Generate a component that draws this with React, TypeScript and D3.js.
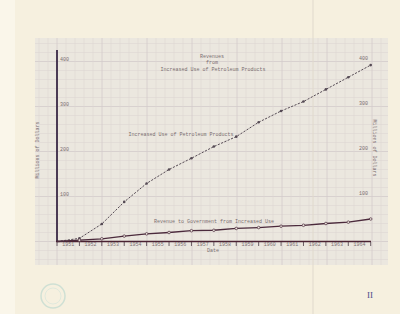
import React from "react";
import * as d3 from "d3";

const years = ["1951","1952","1953","1954","1955","1956","1957","1958","1959","1960","1961","1962","1963","1964"];
const petroleumUse = [0, 7, 39, 88, 129, 160, 185, 211, 233, 265, 290, 311, 338, 365, 392];
const revenue = [0, 3, 6, 12, 17, 20, 24, 25, 29, 31, 34, 36, 40, 43, 50];
const yTicks = [100, 200, 300, 400];

const W = 400, H = 314;
const FONT = "'Liberation Mono', 'DejaVu Sans Mono', monospace";
const TXT = "#7a6e70";

export default function App() {
  const x = d3.scaleLinear().domain([0, 14]).range([57, 370.7]);
  const y = d3.scaleLinear().domain([0, 400]).range([241.5, 61.5]);
  const idx = d3.range(petroleumUse.length);

  const gx0 = 35, gx1 = 388, gy0 = 38, gy1 = 265;
  const step = 9;
  const hLines: { v: number; major: boolean }[] = [];
  for (let k = -3; ; k++) {
    const v = 241.5 - k * step;
    if (v < gy0) break;
    if (v <= gy1) hLines.push({ v, major: k % 5 === 0 });
  }
  const vLines: { v: number; major: boolean }[] = [];
  for (let k = -2; ; k++) {
    const v = 57 + k * step;
    if (v > gx1) break;
    if (v >= gx0) vLines.push({ v, major: k % 5 === 0 });
  }

  const line = d3.line<number>().x((i) => x(i)).y((i) => y(petroleumUse[i]));
  const line2 = d3.line<number>().x((i) => x(i)).y((i) => y(revenue[i]));

  return (
    <svg width={W} height={H} style={{ position: "absolute", left: 0, top: 0 }}>
      <rect x={0} y={0} width={W} height={H} fill="#f6f0df" />
      <rect x={0} y={0} width={15} height={H} fill="#faf6ea" />
      <rect x={gx0} y={gy0} width={gx1 - gx0} height={gy1 - gy0} fill="#ebe7df" />
      {hLines.map((l, i) => (
        <line key={"h" + i} x1={gx0} x2={gx1} y1={l.v} y2={l.v} stroke={l.major ? "#d3cbca" : "#ddd6d3"} strokeWidth={l.major ? 0.8 : 0.6} />
      ))}
      {vLines.map((l, i) => (
        <line key={"v" + i} y1={gy0} y2={gy1} x1={l.v} x2={l.v} stroke={l.major ? "#d3cbca" : "#ddd6d3"} strokeWidth={l.major ? 0.8 : 0.6} />
      ))}
      <line x1={313} x2={313} y1={0} y2={H} stroke="#e0d9cc" strokeWidth={1} />

      {/* axes */}
      <line x1={57} x2={57} y1={50} y2={241.5} stroke="#3a2846" strokeWidth={1.8} />
      <line x1={56} x2={371} y1={241.5} y2={241.5} stroke="#4a2232" strokeWidth={1.5} />
      {idx.map((i) => (
        <line key={"t" + i} x1={x(i)} x2={x(i)} y1={242} y2={246} stroke="#4a3a44" strokeWidth={0.8} />
      ))}
      {years.map((yr, i) => (
        <text key={yr} x={x(i + 0.5)} y={246} fontSize={5} fontFamily={FONT} fill={TXT} textAnchor="middle">{yr}</text>
      ))}
      <text x={213} y={252} fontSize={5} fontFamily={FONT} fill={TXT} textAnchor="middle">Date</text>

      {yTicks.map((t) => (
        <text key={"l" + t} x={60} y={y(t) - 0.5} fontSize={5} fontFamily={FONT} fill={TXT}>{t}</text>
      ))}
      {yTicks.map((t) => (
        <text key={"r" + t} x={368} y={y(t) - 1.5} fontSize={5} fontFamily={FONT} fill={TXT} textAnchor="end">{t}</text>
      ))}
      <text transform="translate(39,150) rotate(-90)" fontSize={5} fontFamily={FONT} fill={TXT} textAnchor="middle">Millions of Dollars</text>
      <text transform="translate(373,148) rotate(90)" fontSize={5} fontFamily={FONT} fill={TXT} textAnchor="middle">Millions of Dollars</text>

      <text x={212} y={58} fontSize={5} fontFamily={FONT} fill={TXT} textAnchor="middle">Revenues</text>
      <text x={212} y={64} fontSize={5} fontFamily={FONT} fill={TXT} textAnchor="middle">from</text>
      <text x={213} y={71} fontSize={5} fontFamily={FONT} fill={TXT} textAnchor="middle">Increased Use of Petroleum Products</text>

      <text x={181} y={135.5} fontSize={5} fontFamily={FONT} fill={TXT} textAnchor="middle">Increased Use of Petroleum Products</text>
      <text x={214} y={223} fontSize={5} fontFamily={FONT} fill={TXT} textAnchor="middle">Revenue to Government from Increased Use</text>

      {/* series */}
      <path d={line(idx) || ""} fill="none" stroke="#554a54" strokeWidth={1} strokeDasharray="2.2,1.4" />
      {idx.slice(1).map((i) => (
        <circle key={"p" + i} cx={x(i)} cy={y(petroleumUse[i])} r={1.3} fill="#554a54" />
      ))}
      <path d={line2(idx) || ""} fill="none" stroke="#4b2a3c" strokeWidth={1.3} />
      {idx.slice(1).map((i) => (
        <circle key={"q" + i} cx={x(i)} cy={y(revenue[i])} r={1.3} fill="#ece7dd" stroke="#4b2a3c" strokeWidth={0.7} />
      ))}

      {/* stamp and page mark */}
      <circle cx={53} cy={296} r={12} fill="none" stroke="#cfe0d4" strokeWidth={1.5} />
      <circle cx={53} cy={296} r={8} fill="none" stroke="#dbe7dc" strokeWidth={0.8} />
      <text x={370} y={298} fontSize={9} fontFamily="'Liberation Serif', serif" fill="#4a4a8a" textAnchor="middle">II</text>
    </svg>
  );
}
